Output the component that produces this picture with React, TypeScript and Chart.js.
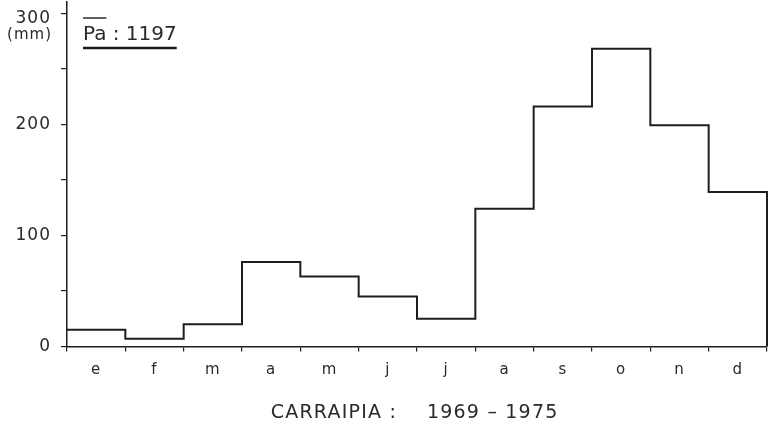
import React, { useEffect, useRef } from "react";
import { Chart, registerables } from "chart.js";

Chart.register(...registerables);

const months: string[] = ["e", "f", "m", "a", "m", "j", "j", "a", "s", "o", "n", "d"];
const precipitation: number[] = [15, 7, 20, 76, 63, 45, 25, 124, 216, 268, 199, 139];
const yTickValues: number[] = [0, 50, 100, 150, 200, 250, 300];
const yLabelValues: number[] = [0, 100, 200];
const topLabel = "300";
const legendText = "Pa : 1197";
const unitText = "(mm)";
const titleLeft = "CARRAIPIA :";
const titleRight = "1969 – 1975";

const INK = "#1e1e1e";
const TEXT = "#2a2a2a";
const FONT = "DejaVu Sans";

const annotations = {
  id: "annotations",
  beforeDraw(chart: any) {
    chart.ctx.letterSpacing = "1px";
  },
  afterDraw(chart: any) {
    const ctx = chart.ctx;
    const y = chart.scales.y;
    const area = chart.chartArea;
    ctx.save();
    ctx.fillStyle = TEXT;
    ctx.strokeStyle = INK;
    // top tick label and unit under it
    ctx.letterSpacing = "1px";
    ctx.textAlign = "right";
    ctx.textBaseline = "middle";
    ctx.font = `17px ${FONT}`;
    ctx.fillText(topLabel, area.left - 16, y.getPixelForValue(300) + 5);
    ctx.font = `15px ${FONT}`;
    ctx.fillText(unitText, area.left - 15, y.getPixelForValue(300) + 22);
    // legend: mean annual precipitation
    ctx.letterSpacing = "0px";
    const lx = area.left + 16;
    const ly = area.top + 33;
    ctx.font = `20px ${FONT}`;
    ctx.textAlign = "left";
    ctx.textBaseline = "middle";
    ctx.fillText(legendText, lx, ly);
    const w = ctx.measureText(legendText).width;
    const pw = ctx.measureText("Pa").width;
    ctx.lineWidth = 2.4;
    ctx.beginPath();
    ctx.moveTo(lx, area.top + 46);
    ctx.lineTo(lx + w, area.top + 46);
    ctx.stroke();
    ctx.lineWidth = 1.4;
    ctx.beginPath();
    ctx.moveTo(lx, area.top + 16);
    ctx.lineTo(lx + pw, area.top + 16);
    ctx.stroke();
    // bottom title
    ctx.letterSpacing = "1.2px";
    ctx.font = `19px ${FONT}`;
    ctx.textBaseline = "middle";
    const cx = (area.left + area.right) / 2;
    ctx.textAlign = "right";
    ctx.fillText(titleLeft, cx - 20, 413);
    ctx.textAlign = "left";
    ctx.fillText(titleRight, cx + 10, 413);
    ctx.restore();
    ctx.letterSpacing = "0px";
  },
};

export default function App() {
  const ref = useRef<HTMLCanvasElement | null>(null);
  useEffect(() => {
    document.body.style.margin = "0";
    const points = precipitation.map((v, i) => ({ x: i, y: v }));
    points.push({ x: months.length, y: 0 });
    const chart = new Chart(ref.current as HTMLCanvasElement, {
      type: "line",
      data: {
        datasets: [
          {
            data: points,
            xAxisID: "xv",
            yAxisID: "y",
            stepped: "before",
            borderColor: INK,
            borderWidth: 2,
            pointRadius: 0,
            fill: false,
            clip: false as any,
          },
        ],
      },
      options: {
        animation: false,
        responsive: false,
        maintainAspectRatio: false,
        layout: { padding: { left: 0, right: 9, top: 2, bottom: 0 } },
        plugins: {
          legend: { display: false },
          tooltip: { enabled: false },
          title: { display: false },
        },
        scales: {
          xv: { type: "linear", min: 0, max: months.length, display: false },
          x: {
            type: "category",
            labels: months,
            offset: true,
            position: "bottom",
            grid: {
              offset: true,
              drawOnChartArea: false,
              drawTicks: true,
              tickLength: 5,
              color: INK,
              lineWidth: 1.2,
            },
            border: { color: INK, width: 1.5 },
            ticks: {
              color: TEXT,
              font: { family: FONT, size: 15 },
              padding: 10,
              maxRotation: 0,
              autoSkip: false,
            },
            afterFit: (s: any) => {
              s.height = 96.5;
              s.paddingLeft = 0;
              s.paddingRight = 0;
            },
          },
          y: {
            type: "linear",
            min: 0,
            max: 310,
            position: "left",
            afterBuildTicks: (s: any) => {
              s.ticks = yTickValues.map((v) => ({ value: v }));
            },
            grid: {
              drawOnChartArea: false,
              drawTicks: true,
              tickLength: 6,
              color: INK,
              lineWidth: 1.2,
            },
            border: { color: INK, width: 1.5 },
            ticks: {
              color: TEXT,
              font: { family: FONT, size: 17 },
              padding: 10,
              callback: (v: any) => (yLabelValues.includes(Number(v)) ? String(v) : ""),
            },
            afterFit: (s: any) => {
              s.width = 67;
              s.paddingTop = 0;
              s.paddingBottom = 0;
            },
          },
        },
      },
      plugins: [annotations],
    });
    return () => chart.destroy();
  }, []);
  return <canvas ref={ref} width={776} height={443} style={{ display: "block" }} />;
}
